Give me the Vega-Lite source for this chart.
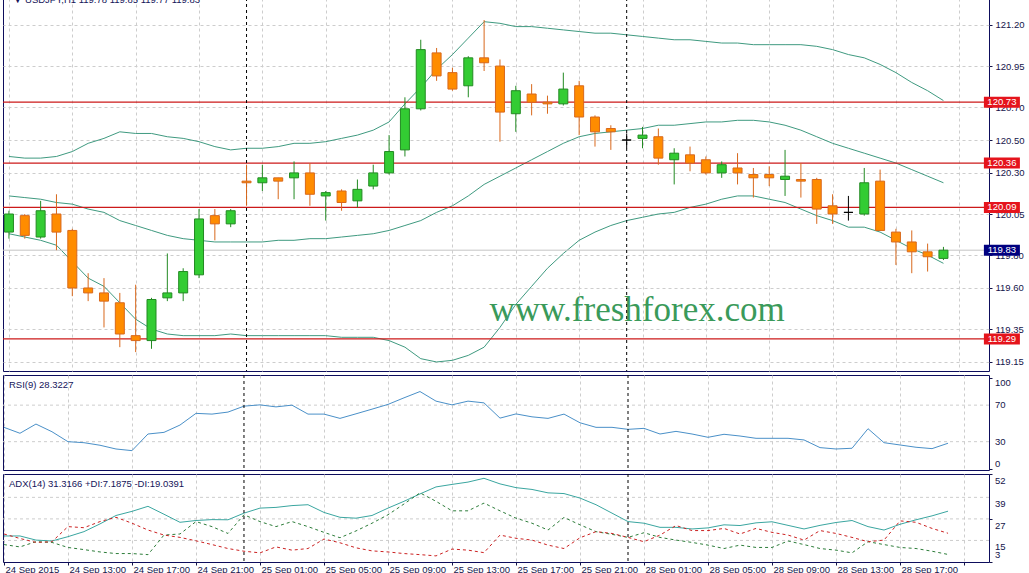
{
  "$schema": "https://vega.github.io/schema/vega-lite/v6.json",
  "background": "white",
  "padding": {"left": 1, "top": -3, "right": 0, "bottom": 0},
  "spacing": 2,
  "config": {
    "view": {"stroke": "#0d0d5c", "strokeWidth": 1},
    "axis": {"labelFont": "Liberation Sans", "labelFontSize": 9.5, "labelColor": "#14144a", "tickColor": "#14144a", "domain": false, "gridColor": "#cdcdcd", "gridDash": [3, 3], "gridWidth": 1, "labelOverlap": false},
    "concat": {"spacing": 2}
  },
  "datasets": {
    "bars": [
      {"i":0,"o":119.94,"h":120.07,"l":119.90,"c":120.05,"d":"up","bu":120.40,"bm":120.16,"bl":119.93,"rsi":45.7,"adx":17.5,"pdi":12.7,"mdi":18.6},
      {"i":1,"o":120.04,"h":120.05,"l":119.90,"c":119.92,"d":"down","bu":120.39,"bm":120.15,"bl":119.91,"rsi":39.2,"adx":17.5,"pdi":11.4,"mdi":16.1},
      {"i":2,"o":119.91,"h":120.13,"l":119.90,"c":120.07,"d":"up","bu":120.39,"bm":120.14,"bl":119.89,"rsi":49.3,"adx":15.2,"pdi":14.3,"mdi":13.9},
      {"i":3,"o":120.05,"h":120.17,"l":119.83,"c":119.94,"d":"down","bu":120.40,"bm":120.12,"bl":119.86,"rsi":40.9,"adx":14.7,"pdi":13.9,"mdi":14.3},
      {"i":4,"o":119.95,"h":119.96,"l":119.55,"c":119.60,"d":"down","bu":120.43,"bm":120.11,"bl":119.76,"rsi":30.0,"adx":17.1,"pdi":11.1,"mdi":22.7},
      {"i":5,"o":119.60,"h":119.69,"l":119.52,"c":119.57,"d":"down","bu":120.48,"bm":120.08,"bl":119.66,"rsi":28.9,"adx":19.9,"pdi":9.9,"mdi":22.1},
      {"i":6,"o":119.57,"h":119.66,"l":119.36,"c":119.52,"d":"down","bu":120.51,"bm":120.06,"bl":119.61,"rsi":26.1,"adx":24.2,"pdi":8.6,"mdi":25.5},
      {"i":7,"o":119.51,"h":119.57,"l":119.24,"c":119.32,"d":"down","bu":120.55,"bm":120.01,"bl":119.51,"rsi":22.0,"adx":28.9,"pdi":7.7,"mdi":27.9},
      {"i":8,"o":119.31,"h":119.62,"l":119.21,"c":119.28,"d":"down","bu":120.54,"bm":119.98,"bl":119.41,"rsi":20.2,"adx":31.2,"pdi":7.7,"mdi":24.6},
      {"i":9,"o":119.28,"h":119.54,"l":119.23,"c":119.53,"d":"up","bu":120.54,"bm":119.95,"bl":119.35,"rsi":38.4,"adx":34.0,"pdi":7.1,"mdi":20.8},
      {"i":10,"o":119.54,"h":119.81,"l":119.52,"c":119.57,"d":"up","bu":120.52,"bm":119.92,"bl":119.32,"rsi":40.2,"adx":29.6,"pdi":18.0,"mdi":18.0},
      {"i":11,"o":119.57,"h":119.72,"l":119.52,"c":119.70,"d":"up","bu":120.51,"bm":119.90,"bl":119.31,"rsi":48.2,"adx":25.1,"pdi":18.6,"mdi":16.7},
      {"i":12,"o":119.68,"h":120.08,"l":119.66,"c":120.02,"d":"up","bu":120.49,"bm":119.89,"bl":119.31,"rsi":61.0,"adx":26.1,"pdi":25.5,"mdi":14.8},
      {"i":13,"o":120.04,"h":120.08,"l":119.89,"c":119.99,"d":"down","bu":120.46,"bm":119.88,"bl":119.31,"rsi":60.2,"adx":26.6,"pdi":22.7,"mdi":12.7},
      {"i":14,"o":119.99,"h":120.08,"l":119.97,"c":120.07,"d":"up","bu":120.44,"bm":119.88,"bl":119.32,"rsi":62.4,"adx":26.5,"pdi":18.9,"mdi":10.5},
      {"i":15,"o":120.25,"h":120.35,"l":120.10,"c":120.24,"d":"down","bu":120.45,"bm":119.88,"bl":119.31,"rsi":68.9,"adx":30.2,"pdi":29.3,"mdi":9.0},
      {"i":16,"o":120.24,"h":120.35,"l":120.19,"c":120.27,"d":"up","bu":120.45,"bm":119.88,"bl":119.31,"rsi":70.3,"adx":33.0,"pdi":25.5,"mdi":8.1},
      {"i":17,"o":120.27,"h":120.27,"l":120.14,"c":120.25,"d":"down","bu":120.46,"bm":119.89,"bl":119.31,"rsi":68.1,"adx":33.4,"pdi":22.7,"mdi":11.4},
      {"i":18,"o":120.27,"h":120.37,"l":120.14,"c":120.30,"d":"up","bu":120.48,"bm":119.89,"bl":119.31,"rsi":70.0,"adx":34.4,"pdi":25.5,"mdi":9.6},
      {"i":19,"o":120.30,"h":120.36,"l":120.10,"c":120.17,"d":"down","bu":120.48,"bm":119.90,"bl":119.31,"rsi":60.2,"adx":34.9,"pdi":22.7,"mdi":10.5},
      {"i":20,"o":120.16,"h":120.19,"l":120.01,"c":120.18,"d":"up","bu":120.49,"bm":119.90,"bl":119.31,"rsi":60.2,"adx":30.6,"pdi":19.5,"mdi":15.8},
      {"i":21,"o":120.19,"h":120.20,"l":120.07,"c":120.12,"d":"down","bu":120.51,"bm":119.91,"bl":119.30,"rsi":55.5,"adx":27.9,"pdi":16.5,"mdi":13.7},
      {"i":22,"o":120.13,"h":120.26,"l":120.09,"c":120.20,"d":"up","bu":120.53,"bm":119.92,"bl":119.30,"rsi":60.5,"adx":27.4,"pdi":20.3,"mdi":10.9},
      {"i":23,"o":120.22,"h":120.35,"l":120.20,"c":120.30,"d":"up","bu":120.56,"bm":119.93,"bl":119.30,"rsi":65.6,"adx":28.9,"pdi":24.6,"mdi":9.2},
      {"i":24,"o":120.30,"h":120.53,"l":120.29,"c":120.43,"d":"up","bu":120.61,"bm":119.95,"bl":119.28,"rsi":70.8,"adx":33.0,"pdi":29.3,"mdi":8.6},
      {"i":25,"o":120.44,"h":120.76,"l":120.40,"c":120.69,"d":"up","bu":120.72,"bm":119.98,"bl":119.24,"rsi":78.0,"adx":36.8,"pdi":35.3,"mdi":7.7},
      {"i":26,"o":120.69,"h":121.11,"l":120.68,"c":121.05,"d":"up","bu":120.82,"bm":120.01,"bl":119.17,"rsi":84.9,"adx":40.9,"pdi":41.5,"mdi":7.1},
      {"i":27,"o":121.03,"h":121.06,"l":120.86,"c":120.89,"d":"down","bu":120.93,"bm":120.06,"bl":119.15,"rsi":74.4,"adx":44.8,"pdi":36.8,"mdi":6.4},
      {"i":28,"o":120.91,"h":120.94,"l":120.80,"c":120.81,"d":"down","bu":121.02,"bm":120.10,"bl":119.16,"rsi":70.3,"adx":46.2,"pdi":31.5,"mdi":10.2},
      {"i":29,"o":120.83,"h":121.01,"l":120.76,"c":121.00,"d":"up","bu":121.12,"bm":120.16,"bl":119.19,"rsi":74.4,"adx":47.5,"pdi":31.5,"mdi":9.6},
      {"i":30,"o":121.00,"h":121.23,"l":120.92,"c":120.97,"d":"down","bu":121.22,"bm":120.23,"bl":119.24,"rsi":72.5,"adx":49.6,"pdi":35.8,"mdi":8.2},
      {"i":31,"o":120.95,"h":120.99,"l":120.49,"c":120.67,"d":"down","bu":121.21,"bm":120.28,"bl":119.36,"rsi":55.8,"adx":46.5,"pdi":31.5,"mdi":18.0},
      {"i":32,"o":120.66,"h":120.83,"l":120.55,"c":120.80,"d":"up","bu":121.19,"bm":120.33,"bl":119.50,"rsi":60.4,"adx":44.4,"pdi":27.4,"mdi":16.2},
      {"i":33,"o":120.78,"h":120.84,"l":120.65,"c":120.73,"d":"down","bu":121.19,"bm":120.38,"bl":119.61,"rsi":57.2,"adx":43.4,"pdi":24.6,"mdi":15.2},
      {"i":34,"o":120.73,"h":120.77,"l":120.66,"c":120.72,"d":"down","bu":121.18,"bm":120.43,"bl":119.72,"rsi":55.5,"adx":41.5,"pdi":20.8,"mdi":12.4},
      {"i":35,"o":120.72,"h":120.91,"l":120.71,"c":120.81,"d":"up","bu":121.17,"bm":120.48,"bl":119.81,"rsi":60.2,"adx":41.1,"pdi":27.8,"mdi":10.5},
      {"i":36,"o":120.83,"h":120.86,"l":120.53,"c":120.64,"d":"down","bu":121.16,"bm":120.52,"bl":119.89,"rsi":50.7,"adx":38.6,"pdi":23.7,"mdi":16.5},
      {"i":37,"o":120.64,"h":120.65,"l":120.46,"c":120.55,"d":"down","bu":121.15,"bm":120.54,"bl":119.94,"rsi":45.7,"adx":34.9,"pdi":19.9,"mdi":19.9},
      {"i":38,"o":120.57,"h":120.59,"l":120.44,"c":120.55,"d":"down","bu":121.15,"bm":120.55,"bl":119.98,"rsi":45.7,"adx":30.2,"pdi":18.4,"mdi":18.9},
      {"i":39,"o":120.50,"h":120.54,"l":120.45,"c":120.50,"d":"flat","bu":121.14,"bm":120.56,"bl":120.01,"rsi":43.5,"adx":25.5,"pdi":16.7,"mdi":16.7},
      {"i":40,"o":120.51,"h":120.58,"l":120.45,"c":120.53,"d":"up","bu":121.13,"bm":120.57,"bl":120.03,"rsi":44.6,"adx":24.6,"pdi":19.3,"mdi":14.3},
      {"i":41,"o":120.52,"h":120.57,"l":120.35,"c":120.39,"d":"down","bu":121.12,"bm":120.59,"bl":120.05,"rsi":38.4,"adx":22.3,"pdi":16.7,"mdi":18.0},
      {"i":42,"o":120.38,"h":120.45,"l":120.23,"c":120.42,"d":"up","bu":121.11,"bm":120.59,"bl":120.06,"rsi":41.3,"adx":22.3,"pdi":15.2,"mdi":23.3},
      {"i":43,"o":120.41,"h":120.46,"l":120.31,"c":120.36,"d":"down","bu":121.11,"bm":120.60,"bl":120.09,"rsi":38.4,"adx":21.4,"pdi":13.9,"mdi":20.5},
      {"i":44,"o":120.38,"h":120.40,"l":120.29,"c":120.30,"d":"down","bu":121.10,"bm":120.61,"bl":120.11,"rsi":34.8,"adx":22.0,"pdi":12.4,"mdi":20.5},
      {"i":45,"o":120.30,"h":120.37,"l":120.27,"c":120.35,"d":"up","bu":121.09,"bm":120.61,"bl":120.14,"rsi":38.1,"adx":23.7,"pdi":10.5,"mdi":21.7},
      {"i":46,"o":120.33,"h":120.42,"l":120.23,"c":120.30,"d":"down","bu":121.09,"bm":120.62,"bl":120.16,"rsi":36.2,"adx":23.3,"pdi":12.4,"mdi":18.6},
      {"i":47,"o":120.29,"h":120.33,"l":120.15,"c":120.27,"d":"down","bu":121.08,"bm":120.62,"bl":120.16,"rsi":33.7,"adx":24.8,"pdi":11.1,"mdi":21.7},
      {"i":48,"o":120.29,"h":120.34,"l":120.22,"c":120.27,"d":"down","bu":121.08,"bm":120.61,"bl":120.14,"rsi":33.7,"adx":25.4,"pdi":11.1,"mdi":19.5},
      {"i":49,"o":120.26,"h":120.44,"l":120.16,"c":120.28,"d":"up","bu":121.08,"bm":120.59,"bl":120.12,"rsi":33.7,"adx":23.4,"pdi":14.7,"mdi":18.0},
      {"i":50,"o":120.26,"h":120.36,"l":120.15,"c":120.25,"d":"down","bu":121.08,"bm":120.56,"bl":120.08,"rsi":31.9,"adx":21.4,"pdi":12.7,"mdi":15.2},
      {"i":51,"o":120.26,"h":120.27,"l":119.99,"c":120.08,"d":"down","bu":121.07,"bm":120.52,"bl":120.04,"rsi":23.5,"adx":23.4,"pdi":10.5,"mdi":20.5},
      {"i":52,"o":120.10,"h":120.17,"l":119.99,"c":120.05,"d":"down","bu":121.05,"bm":120.48,"bl":120.01,"rsi":22.0,"adx":25.0,"pdi":9.6,"mdi":18.9},
      {"i":53,"o":120.06,"h":120.16,"l":120.01,"c":120.06,"d":"flat","bu":121.02,"bm":120.45,"bl":119.97,"rsi":22.8,"adx":26.1,"pdi":8.1,"mdi":16.7},
      {"i":54,"o":120.05,"h":120.33,"l":120.04,"c":120.24,"d":"up","bu":121.00,"bm":120.42,"bl":119.97,"rsi":44.2,"adx":22.7,"pdi":14.3,"mdi":14.3},
      {"i":55,"o":120.25,"h":120.32,"l":119.95,"c":119.95,"d":"down","bu":120.96,"bm":120.39,"bl":119.94,"rsi":28.9,"adx":20.8,"pdi":12.7,"mdi":15.2},
      {"i":56,"o":119.94,"h":119.96,"l":119.74,"c":119.88,"d":"down","bu":120.91,"bm":120.36,"bl":119.89,"rsi":26.4,"adx":24.0,"pdi":11.1,"mdi":25.9},
      {"i":57,"o":119.88,"h":119.95,"l":119.69,"c":119.82,"d":"down","bu":120.85,"bm":120.32,"bl":119.84,"rsi":23.9,"adx":26.5,"pdi":10.5,"mdi":25.1},
      {"i":58,"o":119.82,"h":119.87,"l":119.70,"c":119.79,"d":"down","bu":120.80,"bm":120.28,"bl":119.80,"rsi":22.4,"adx":28.7,"pdi":9.0,"mdi":21.7},
      {"i":59,"o":119.78,"h":119.85,"l":119.77,"c":119.83,"d":"up","bu":120.74,"bm":120.24,"bl":119.75,"rsi":28.3,"adx":31.3,"pdi":7.2,"mdi":19.0}
    ],
    "levels": [{"price": 120.73}, {"price": 120.36}, {"price": 120.09}, {"price": 119.29}],
    "bid": [{"price": 119.83}],
    "days": [{"i": 15}, {"i": 39}],
    "rsiGrid": [{"v": 30}, {"v": 70}],
    "rsiTicks": [{"v": 0}, {"v": 30}, {"v": 70}, {"v": 100}],
    "adxGrid": [{"v": 15}, {"v": 27}, {"v": 39}],
    "adxTicks": [{"v": 3}, {"v": 15}, {"v": 27}, {"v": 39}, {"v": 52}]
  },
  "vconcat": [
    {
      "width": 986,
      "height": 373,
      "layer": [
        {
          "data": {"values": [{"t": "www.freshforex.com"}]},
          "mark": {"type": "text", "font": "Liberation Serif", "fontSize": 35, "color": "#3a9a5a", "align": "center", "baseline": "alphabetic"},
          "encoding": {
            "x": {"datum": 39.66, "type": "quantitative"},
            "y": {"datum": 119.40, "type": "quantitative"},
            "text": {"field": "t"}
          }
        },
        {
          "data": {"name": "bars"},
          "mark": {"type": "line", "color": "#3f9a80", "strokeWidth": 1},
          "encoding": {
            "x": {"field": "i", "type": "quantitative", "title": null, "scale": {"domain": [-0.06, 61.56], "nice": false, "zero": false},
                  "axis": {"values": [0,2,4,6,8,10,12,14,16,18,20,22,24,26,28,30,32,34,36,38,40,42,44,46,48,50,52,54,56,58,60], "labels": false, "ticks": false, "grid": true}},
            "y": {"field": "bu", "type": "quantitative", "title": null, "scale": {"domain": [119.095, 121.364], "nice": false, "zero": false},
                  "axis": {"orient": "right", "values": [119.15, 119.35, 119.6, 119.8, 120.05, 120.3, 120.5, 120.7, 120.95, 121.2], "format": ".2f", "grid": true, "tickSize": 3, "labelPadding": 3}}
          }
        },
        {
          "data": {"name": "bars"},
          "mark": {"type": "line", "color": "#3f9a80", "strokeWidth": 1},
          "encoding": {
            "x": {"field": "i", "type": "quantitative", "title": null},
            "y": {"field": "bm", "type": "quantitative", "title": null}
          }
        },
        {
          "data": {"name": "bars"},
          "mark": {"type": "line", "color": "#3f9a80", "strokeWidth": 1},
          "encoding": {
            "x": {"field": "i", "type": "quantitative", "title": null},
            "y": {"field": "bl", "type": "quantitative", "title": null}
          }
        },
        {
          "data": {"name": "bid"},
          "mark": {"type": "rule", "color": "#c4c4c4", "strokeWidth": 1},
          "encoding": {"y": {"field": "price", "type": "quantitative", "title": null}}
        },
        {
          "data": {"name": "levels"},
          "mark": {"type": "rule", "color": "#cc1a1a", "strokeWidth": 1.2},
          "encoding": {"y": {"field": "price", "type": "quantitative", "title": null}}
        },
        {
          "data": {"name": "days"},
          "mark": {"type": "rule", "color": "#000000", "strokeDash": [3, 3], "strokeWidth": 1},
          "encoding": {"x": {"field": "i", "type": "quantitative", "title": null}}
        },
        {
          "data": {"name": "bars"},
          "mark": {"type": "rule", "strokeWidth": 1},
          "encoding": {
            "x": {"field": "i", "type": "quantitative", "title": null},
            "y": {"field": "l", "type": "quantitative", "title": null},
            "y2": {"field": "h"},
            "stroke": {"field": "d", "type": "nominal", "scale": {"domain": ["up", "down", "flat"], "range": ["#238a23", "#d8681c", "#000000"]}, "legend": null}
          }
        },
        {
          "data": {"name": "bars"},
          "mark": {"type": "bar", "size": 9, "orient": "vertical", "strokeWidth": 1},
          "encoding": {
            "x": {"field": "i", "type": "quantitative", "title": null},
            "y": {"field": "o", "type": "quantitative", "title": null},
            "y2": {"field": "c"},
            "fill": {"field": "d", "type": "nominal", "scale": {"domain": ["up", "down", "flat"], "range": ["#33cc33", "#ff8c00", "#000000"]}, "legend": null},
            "stroke": {"field": "d", "type": "nominal", "legend": null}
          }
        },
        {
          "data": {"values": [{"t": "▼  USDJPY,H1  119.78 119.85 119.77 119.83"}]},
          "mark": {"type": "text", "font": "Liberation Sans", "fontSize": 9.5, "color": "#14145a", "align": "left", "baseline": "alphabetic", "dx": 5, "dy": 5, "clip": true},
          "encoding": {
            "x": {"datum": -0.06, "type": "quantitative"},
            "y": {"datum": 121.364, "type": "quantitative"},
            "text": {"field": "t"}
          }
        },
        {
          "data": {"name": "levels"},
          "mark": {"type": "rect", "width": 36, "height": 11, "color": "#e5141c"},
          "encoding": {
            "x": {"datum": 62.69, "type": "quantitative"},
            "y": {"field": "price", "type": "quantitative", "title": null}
          }
        },
        {
          "data": {"name": "bid"},
          "mark": {"type": "rect", "width": 36, "height": 11, "color": "#000080"},
          "encoding": {
            "x": {"datum": 62.69, "type": "quantitative"},
            "y": {"field": "price", "type": "quantitative", "title": null}
          }
        },
        {
          "data": {"name": "levels"},
          "mark": {"type": "text", "font": "Liberation Sans", "fontSize": 9.5, "color": "#ffffff", "align": "center", "baseline": "middle"},
          "encoding": {
            "x": {"datum": 62.69, "type": "quantitative"},
            "y": {"field": "price", "type": "quantitative", "title": null},
            "text": {"field": "price", "type": "quantitative", "format": ".2f"}
          }
        },
        {
          "data": {"name": "bid"},
          "mark": {"type": "text", "font": "Liberation Sans", "fontSize": 9.5, "color": "#ffffff", "align": "center", "baseline": "middle"},
          "encoding": {
            "x": {"datum": 62.69, "type": "quantitative"},
            "y": {"field": "price", "type": "quantitative", "title": null},
            "text": {"field": "price", "type": "quantitative", "format": ".2f"}
          }
        }
      ]
    },
    {
      "width": 986,
      "height": 95,
      "layer": [
        {
          "data": {"name": "rsiGrid"},
          "mark": {"type": "rule", "color": "#cdcdcd", "strokeDash": [3, 3], "strokeWidth": 1},
          "encoding": {
            "y": {"field": "v", "type": "quantitative", "title": null, "scale": {"domain": [-1, 103], "nice": false, "zero": false},
                  "axis": {"orient": "right", "values": [0, 30, 70, 100], "labels": false, "tickSize": 3, "grid": false}}
          }
        },
        {
          "data": {"name": "bars"},
          "mark": {"type": "line", "color": "#4a90c8", "strokeWidth": 1},
          "encoding": {
            "x": {"field": "i", "type": "quantitative", "title": null, "scale": {"domain": [-0.06, 61.56], "nice": false, "zero": false},
                  "axis": {"values": [0,2,4,6,8,10,12,14,16,18,20,22,24,26,28,30,32,34,36,38,40,42,44,46,48,50,52,54,56,58,60], "labels": false, "ticks": false, "grid": true}},
            "y": {"field": "rsi", "type": "quantitative", "title": null}
          }
        },
        {
          "data": {"name": "days"},
          "mark": {"type": "rule", "color": "#000000", "strokeDash": [3, 3], "strokeWidth": 1},
          "encoding": {"x": {"field": "i", "type": "quantitative", "title": null}}
        },
        {
          "data": {"name": "rsiTicks"},
          "transform": [{"filter": "datum.v == 30 || datum.v == 70"}],
          "mark": {"type": "text", "font": "Liberation Sans", "fontSize": 9.5, "color": "#14144a", "align": "left", "baseline": "middle", "dx": 6},
          "encoding": {
            "x": {"datum": 61.56, "type": "quantitative"},
            "y": {"field": "v", "type": "quantitative", "title": null},
            "text": {"field": "v", "type": "quantitative"}
          }
        },
        {
          "data": {"name": "rsiTicks"},
          "transform": [{"filter": "datum.v == 100"}],
          "mark": {"type": "text", "font": "Liberation Sans", "fontSize": 9.5, "color": "#14144a", "align": "left", "baseline": "top", "dx": 6},
          "encoding": {
            "x": {"datum": 61.56, "type": "quantitative"},
            "y": {"field": "v", "type": "quantitative", "title": null},
            "text": {"field": "v", "type": "quantitative"}
          }
        },
        {
          "data": {"name": "rsiTicks"},
          "transform": [{"filter": "datum.v == 0"}],
          "mark": {"type": "text", "font": "Liberation Sans", "fontSize": 9.5, "color": "#14144a", "align": "left", "baseline": "bottom", "dx": 6},
          "encoding": {
            "x": {"datum": 61.56, "type": "quantitative"},
            "y": {"field": "v", "type": "quantitative", "title": null},
            "text": {"field": "v", "type": "quantitative"}
          }
        },
        {
          "data": {"values": [{"t": "RSI(9) 28.3227"}]},
          "mark": {"type": "text", "font": "Liberation Sans", "fontSize": 9.5, "color": "#14145a", "align": "left", "baseline": "middle", "dx": 6, "dy": 10},
          "encoding": {
            "x": {"datum": -0.06, "type": "quantitative"},
            "y": {"datum": 103, "type": "quantitative"},
            "text": {"field": "t"}
          }
        }
      ]
    },
    {
      "width": 986,
      "height": 88,
      "layer": [
        {
          "data": {"name": "adxGrid"},
          "mark": {"type": "rule", "color": "#cdcdcd", "strokeDash": [3, 3], "strokeWidth": 1},
          "encoding": {
            "y": {"field": "v", "type": "quantitative", "title": null, "scale": {"domain": [3, 52], "nice": false, "zero": false},
                  "axis": {"orient": "right", "values": [3, 15, 27, 39, 52], "labels": false, "tickSize": 3, "grid": false}}
          }
        },
        {
          "data": {"name": "bars"},
          "mark": {"type": "line", "color": "#3aa6a0", "strokeWidth": 1},
          "encoding": {
            "x": {"field": "i", "type": "quantitative", "title": null, "scale": {"domain": [-0.06, 61.56], "nice": false, "zero": false},
                  "axis": {"values": [0,2,4,6,8,10,12,14,16,18,20,22,24,26,28,30,32,34,36,38,40,42,44,46,48,50,52,54,56,58,60], "grid": true,
                           "labelExpr": "datum.value % 4 == 0 && datum.value < 60 ? ['24 Sep 2015','24 Sep 13:00','24 Sep 17:00','24 Sep 21:00','25 Sep 01:00','25 Sep 05:00','25 Sep 09:00','25 Sep 13:00','25 Sep 17:00','25 Sep 21:00','28 Sep 01:00','28 Sep 05:00','28 Sep 09:00','28 Sep 13:00','28 Sep 17:00'][datum.value / 4] : ''",
                           "labelAlign": "left", "labelBaseline": "middle", "labelOffset": 1, "labelPadding": 4, "tickSize": 3, "labelOverlap": false, "labelBound": false, "labelFlush": false,
                           "tickOpacity": {"condition": {"test": "datum.value % 4 == 0", "value": 1}, "value": 0}}},
            "y": {"field": "adx", "type": "quantitative", "title": null}
          }
        },
        {
          "data": {"name": "bars"},
          "mark": {"type": "line", "color": "#2d7d3a", "strokeWidth": 1, "strokeDash": [3, 3]},
          "encoding": {
            "x": {"field": "i", "type": "quantitative", "title": null},
            "y": {"field": "pdi", "type": "quantitative", "title": null}
          }
        },
        {
          "data": {"name": "bars"},
          "mark": {"type": "line", "color": "#cc2222", "strokeWidth": 1, "strokeDash": [3, 3]},
          "encoding": {
            "x": {"field": "i", "type": "quantitative", "title": null},
            "y": {"field": "mdi", "type": "quantitative", "title": null}
          }
        },
        {
          "data": {"name": "days"},
          "mark": {"type": "rule", "color": "#000000", "strokeDash": [3, 3], "strokeWidth": 1},
          "encoding": {"x": {"field": "i", "type": "quantitative", "title": null}}
        },
        {
          "data": {"name": "adxTicks"},
          "transform": [{"filter": "datum.v != 3"}],
          "mark": {"type": "text", "font": "Liberation Sans", "fontSize": 9.5, "color": "#14144a", "align": "left", "baseline": "top", "dx": 6, "dy": 2},
          "encoding": {
            "x": {"datum": 61.56, "type": "quantitative"},
            "y": {"field": "v", "type": "quantitative", "title": null},
            "text": {"field": "v", "type": "quantitative"}
          }
        },
        {
          "data": {"name": "adxTicks"},
          "transform": [{"filter": "datum.v == 3"}],
          "mark": {"type": "text", "font": "Liberation Sans", "fontSize": 9.5, "color": "#14144a", "align": "left", "baseline": "bottom", "dx": 6, "dy": -2},
          "encoding": {
            "x": {"datum": 61.56, "type": "quantitative"},
            "y": {"field": "v", "type": "quantitative", "title": null},
            "text": {"field": "v", "type": "quantitative"}
          }
        },
        {
          "data": {"values": [{"t": "ADX(14) 31.3166 +DI:7.1875 -DI:19.0391"}]},
          "mark": {"type": "text", "font": "Liberation Sans", "fontSize": 9.5, "color": "#14145a", "align": "left", "baseline": "middle", "dx": 6, "dy": 10},
          "encoding": {
            "x": {"datum": -0.06, "type": "quantitative"},
            "y": {"datum": 52, "type": "quantitative"},
            "text": {"field": "t"}
          }
        }
      ]
    }
  ]
}
